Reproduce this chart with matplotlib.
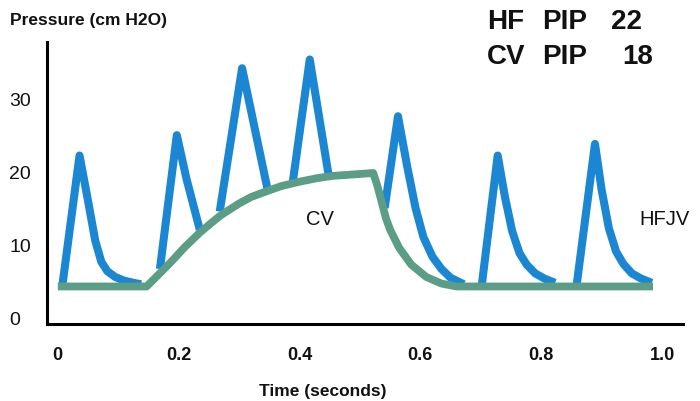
import matplotlib.pyplot as plt

# HFJV pulses (time s, pressure cm H2O), one list per pulse
hf_t = [
    [0.008, 0.036, 0.05, 0.062, 0.072, 0.082, 0.095, 0.11, 0.125, 0.138],
    [0.169, 0.197, 0.213, 0.235],
    [0.268, 0.305, 0.347],
    [0.389, 0.417, 0.448],
    [0.541, 0.563, 0.578, 0.592, 0.605, 0.62, 0.635, 0.65, 0.672],
    [0.702, 0.728, 0.74, 0.752, 0.764, 0.776, 0.79, 0.805, 0.823],
    [0.859, 0.889, 0.90, 0.912, 0.924, 0.936, 0.95, 0.965, 0.983],
]
hf_p = [
    [4.6, 22.2, 16.0, 10.5, 7.6, 6.3, 5.5, 5.0, 4.7, 4.5],
    [6.6, 25.0, 19.0, 12.0],
    [14.5, 34.2, 17.6],
    [18.6, 35.4, 19.6],
    [15.0, 27.6, 20.8, 15.0, 11.0, 8.3, 6.6, 5.4, 4.5],
    [4.6, 22.2, 16.5, 11.8, 8.8, 7.2, 6.0, 5.3, 4.7],
    [4.6, 23.8, 17.5, 12.2, 9.0, 7.3, 6.0, 5.3, 4.7],
]

# conventional ventilation breath
cv_t = [0.0, 0.147, 0.17, 0.19, 0.21, 0.235, 0.255, 0.27, 0.30, 0.32, 0.346,
        0.37, 0.40, 0.43, 0.455, 0.49, 0.522, 0.529, 0.536, 0.543, 0.55,
        0.565, 0.585, 0.61, 0.635, 0.66, 0.985]
cv_p = [4.2, 4.2, 6.1, 7.8, 9.6, 11.6, 13.0, 14.0, 15.6, 16.5, 17.3,
        18.0, 18.6, 19.1, 19.4, 19.6, 19.8, 18.0, 15.8, 13.6, 12.0,
        9.5, 7.2, 5.5, 4.6, 4.2, 4.2]

x_ticks = [0, 0.2, 0.4, 0.6, 0.8, 1.0]
x_labels = ["0", "0.2", "0.4", "0.6", "0.8", "1.0"]
y_ticks = [0, 10, 20, 30]

BLUE = "#1b87d2"
GREEN = "#5b9d85"

plt.rcParams['font.family'] = ['Liberation Sans', 'DejaVu Sans']

fig = plt.figure(figsize=(7, 4.02), dpi=100)
ax = fig.add_axes([0.067, 0.1915, 0.909, 0.7015])

for t, p in zip(hf_t, hf_p):
    ax.plot(t, p, color=BLUE, lw=5.8, solid_joinstyle='round',
            solid_capstyle='butt', zorder=2)
ax.plot(cv_t, cv_p, color=GREEN, lw=5.6, solid_joinstyle='round',
        solid_capstyle='butt', zorder=3)

ax.set_xlim(-0.018, 1.035)
ax.set_ylim(-0.96, 37.8)

for s in ["top", "right"]:
    ax.spines[s].set_visible(False)
for s in ["left", "bottom"]:
    ax.spines[s].set_linewidth(2.2)

ax.set_xticks(x_ticks)
ax.set_xticklabels(x_labels, fontsize=13, fontweight='bold', color='#111111')
ax.set_yticks(y_ticks)
ax.set_yticklabels([str(v) for v in y_ticks], fontsize=14, color='#111111')
ax.tick_params(axis='x', length=0, pad=16)
ax.tick_params(axis='y', length=0, pad=27)
for lab in ax.get_yticklabels():
    lab.set_ha('left')

fig.text(10 / 700, 1 - 20 / 402, "Pressure (cm H2O)", fontsize=12.5,
         fontweight='bold', va='center', ha='left', color='#111111')
fig.text(323 / 700, 1 - 392 / 402, "Time (seconds)", fontsize=12.5,
         fontweight='bold', va='center', ha='center', color='#111111')

big = dict(fontsize=20, fontweight='heavy', va='center', ha='left', color='#111111')
fig.text(487 / 700, 1 - 22 / 402, "HF", **big)
fig.text(542 / 700, 1 - 22 / 402, "PIP", **big)
fig.text(611 / 700, 1 - 22 / 402, "22", **big)
fig.text(487 / 700, 1 - 57 / 402, "CV", **big)
fig.text(542 / 700, 1 - 57 / 402, "PIP", **big)
fig.text(622 / 700, 1 - 57 / 402, "18", **big)

fig.text(306 / 700, 1 - 220 / 402, "CV", fontsize=14.5, va='center', ha='left', color='#111111')
fig.text(639 / 700, 1 - 220 / 402, "HFJV", fontsize=14.5, va='center', ha='left', color='#111111')

fig.savefig("out.png", dpi=100)
